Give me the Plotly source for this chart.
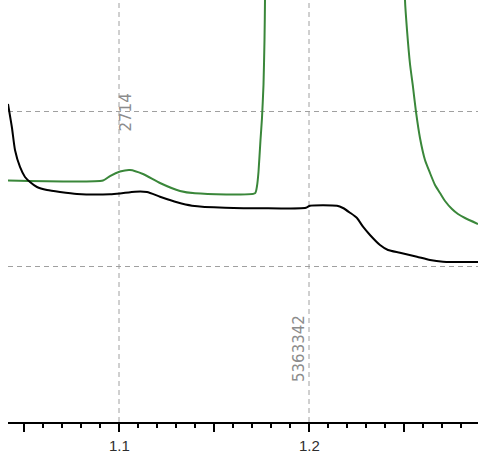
import plotly.graph_objects as go

# Black series
black_x = [1.04158, 1.04368, 1.04526, 1.04789, 1.05053, 1.05316, 1.05684, 1.06211, 1.06895, 1.07789,
           1.09526, 1.10053, 1.10842, 1.11474, 1.12158, 1.13053, 1.13842, 1.15579, 1.19842, 1.20053,
           1.21474, 1.21789, 1.22158, 1.22526, 1.22842, 1.23211, 1.23737, 1.24158, 1.24789, 1.25684,
           1.26368, 1.27053, 1.28895]
black_y = [1.0226, 0.9452, 0.8742, 0.8194, 0.7871, 0.7710, 0.7548, 0.7452, 0.7387, 0.7323,
           0.7313, 0.7339, 0.7397, 0.7387, 0.7235, 0.7055, 0.6945, 0.6881, 0.6881, 0.6945,
           0.6945, 0.6871, 0.6719, 0.6548, 0.6268, 0.6000, 0.5677, 0.5516, 0.5429, 0.5300,
           0.5194, 0.5139, 0.5129]

# Green series
green_x = [1.04158, 1.09158, 1.09526, 1.10053, 1.10579, 1.11263, 1.12158, 1.13211, 1.14000, 1.17158,
           1.17263, 1.17342, 1.17447, 1.17526, 1.17605, 1.17658, 1.17684, 1.17700, 1.25000, 1.25053,
           1.25158, 1.25316, 1.25474, 1.25632, 1.25842, 1.26105, 1.26368, 1.26632, 1.26895, 1.27158,
           1.27526, 1.27842, 1.28211, 1.28895]
green_y = [0.7758, 0.7758, 0.7903, 0.8048, 0.8097, 0.7968, 0.7677, 0.7419, 0.7345, 0.7345,
           0.7581, 0.8032, 0.9065, 0.9774, 1.0839, 1.2290, 1.3580, 2.0000, 2.0000, 1.3580,
           1.2613, 1.1516, 1.0774, 0.9968, 0.9129, 0.8419, 0.8000, 0.7613, 0.7355, 0.7097,
           0.6839, 0.6677, 0.6548, 0.6355]

# Axis ticks / grid
major_ticks = [1.05, 1.10, 1.15, 1.20, 1.25]
label_ticks = [1.1, 1.2]
label_tick_text = ["1.1", "1.2"]
grid_x = [1.1, 1.2]
grid_y = [0.5, 1.0]

# Marker texts
label_texts = ["2714", "5363342"]
label_x = [1.10368, 1.19474]
label_y = [0.9952, 0.2323]

fig = go.Figure()
fig.add_trace(go.Scatter(x=green_x, y=green_y, mode="lines",
                         line=dict(color="#3a873a", width=2, shape="spline", smoothing=0.5),
                         showlegend=False, hoverinfo="skip"))
fig.add_trace(go.Scatter(x=black_x, y=black_y, mode="lines",
                         line=dict(color="#000000", width=2, shape="spline", smoothing=0.6),
                         showlegend=False, hoverinfo="skip"))

for gx in grid_x:
    fig.add_shape(type="line", xref="x", yref="paper", x0=gx, x1=gx, y0=0, y1=1,
                  line=dict(color="#a0a0a0", width=1, dash="5px,4px"), layer="below")

for t, ax_, ay_ in zip(label_texts, label_x, label_y):
    fig.add_annotation(x=ax_, y=ay_, xref="x", yref="y", text=t, showarrow=False,
                       textangle=-90, xanchor="center", yanchor="middle",
                       font=dict(family="DejaVu Sans", size=15, color="#8c8c8c"))

# Tick labels (drawn as annotations so the font size is exact)
for tv, tt in zip(label_ticks, label_tick_text):
    fig.add_annotation(x=tv, y=0, xref="x", yref="paper", text=tt, showarrow=False,
                       xanchor="center", yanchor="middle", yshift=-23,
                       font=dict(family="Liberation Sans", size=15, color="#2e2e2e"))

fig.update_layout(
    width=478, height=460,
    margin=dict(l=8, r=0, t=0, b=38),
    paper_bgcolor="white", plot_bgcolor="white",
    xaxis=dict(range=[1.04158, 1.28895], showgrid=False, zeroline=False,
               showline=True, linecolor="#000000", linewidth=2,
               tickmode="array", tickvals=major_ticks, showticklabels=False,
               ticks="outside", ticklen=8, tickwidth=1.5, tickcolor="#000000",
               minor=dict(dtick=0.01, tick0=1.0, ticks="outside", ticklen=4,
                          tickwidth=1.5, tickcolor="#000000", showgrid=False)),
    yaxis=dict(range=[-0.00323, 1.35806], showticklabels=False, ticks="",
               zeroline=False, showline=False,
               tickmode="array", tickvals=grid_y, showgrid=True,
               gridcolor="#a0a0a0", gridwidth=1, griddash="5px,4px"),
)

fig.write_html("out.html")
